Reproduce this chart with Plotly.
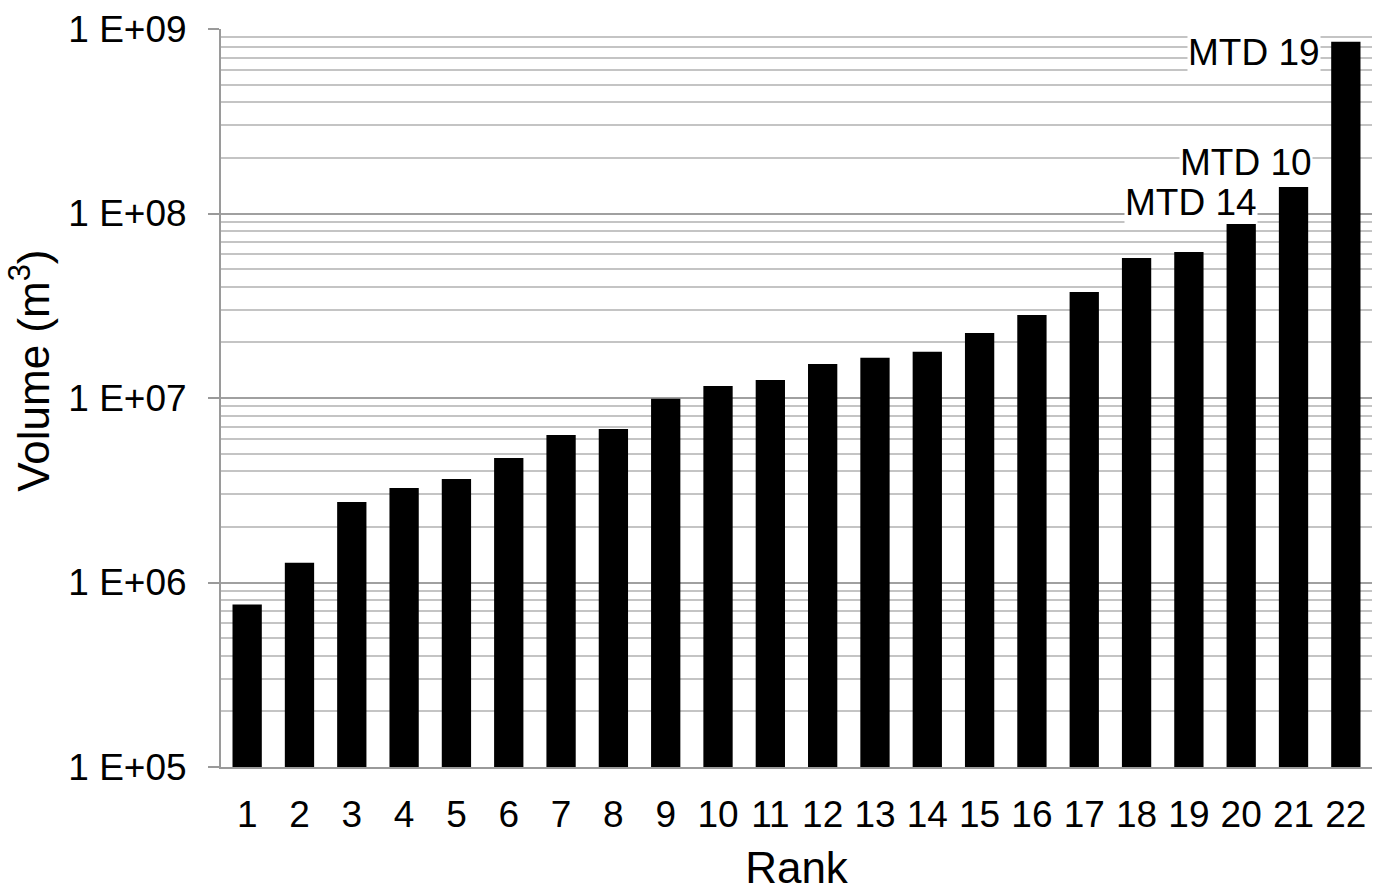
import math
import plotly.graph_objects as go

# landslide volumes sorted by rank
ranks = list(range(1, 23))
volumes = [7.6e5, 1.28e6, 2.73e6, 3.25e6, 3.64e6, 4.73e6, 6.3e6, 6.79e6,
           9.9e6, 1.16e7, 1.25e7, 1.53e7, 1.65e7, 1.78e7, 2.25e7, 2.82e7,
           3.76e7, 5.74e7, 6.18e7, 8.78e7, 1.39e8, 8.53e8]

decades = [1e5, 1e6, 1e7, 1e8, 1e9]
decade_labels = ["1 E+05", "1 E+06", "1 E+07", "1 E+08", "1 E+09"]

# labelled deposits: rank -> name
label_ranks = [22, 21, 20]
label_names = ["MTD 19", "MTD 10", "MTD 14"]

FONT = "Liberation Sans, Arial, sans-serif"

minor_vals = [k * d for d in decades[:-1] for k in range(2, 10)]

fig = go.Figure()
fig.add_trace(go.Bar(
    x=ranks, y=volumes,
    marker=dict(color="black", line=dict(width=0)),
    showlegend=False,
))

# label placement, pixel offsets from the bar top
shifts = {22: (-25, -11), 21: (19, 25), 20: (17, 21)}
for r, name in zip(label_ranks, label_names):
    dx, dy = shifts[r]
    fig.add_annotation(
        x=r, y=math.log10(volumes[r - 1]),
        text=name, showarrow=False,
        xanchor="right", yanchor="middle",
        xshift=dx, yshift=dy,
        bgcolor="white", borderpad=0,
        font=dict(family=FONT, size=37, color="black"),
    )

# y axis title sits a bit above the middle in the original
fig.add_annotation(
    text="Volume (m<sup>3</sup>)", textangle=-90,
    xref="paper", yref="paper", x=-0.166, y=0.537,
    xanchor="center", yanchor="middle", showarrow=False,
    font=dict(family=FONT, size=44, color="black"),
)

fig.update_layout(
    width=1386, height=893,
    margin=dict(l=221, r=14, t=29, b=126),
    plot_bgcolor="white", paper_bgcolor="white",
    bargap=0.44,
    font=dict(family=FONT, color="black"),
)

fig.update_xaxes(
    range=[0.5, 22.5], automargin=False,
    tickmode="array", tickvals=ranks, ticktext=[str(r) for r in ranks],
    tickfont=dict(size=37, family=FONT, color="black"),
    ticks="", ticklabelstandoff=14,
    showline=True, linecolor="#9a9a9a", linewidth=2,
    showgrid=False, zeroline=False,
    title=dict(text="Rank", font=dict(size=44, family=FONT, color="black"), standoff=18),
)

fig.update_yaxes(
    type="log", range=[5, 9], automargin=False,
    tickmode="array", tickvals=decades, ticktext=decade_labels,
    tickfont=dict(size=37, family=FONT, color="black"),
    ticks="outside", ticklen=11, tickcolor="#9a9a9a", tickwidth=2,
    ticklabelstandoff=14,
    showline=True, linecolor="#9a9a9a", linewidth=2,
    showgrid=True, gridcolor="#a0a0a0", gridwidth=1.5,
    minor=dict(tickvals=minor_vals, showgrid=True, gridcolor="#c4c4c4", gridwidth=1.5, ticks=""),
    zeroline=False,
)

fig.write_html("out.html", config={"displayModeBar": False},
               post_script="document.body.style.margin='0';")
